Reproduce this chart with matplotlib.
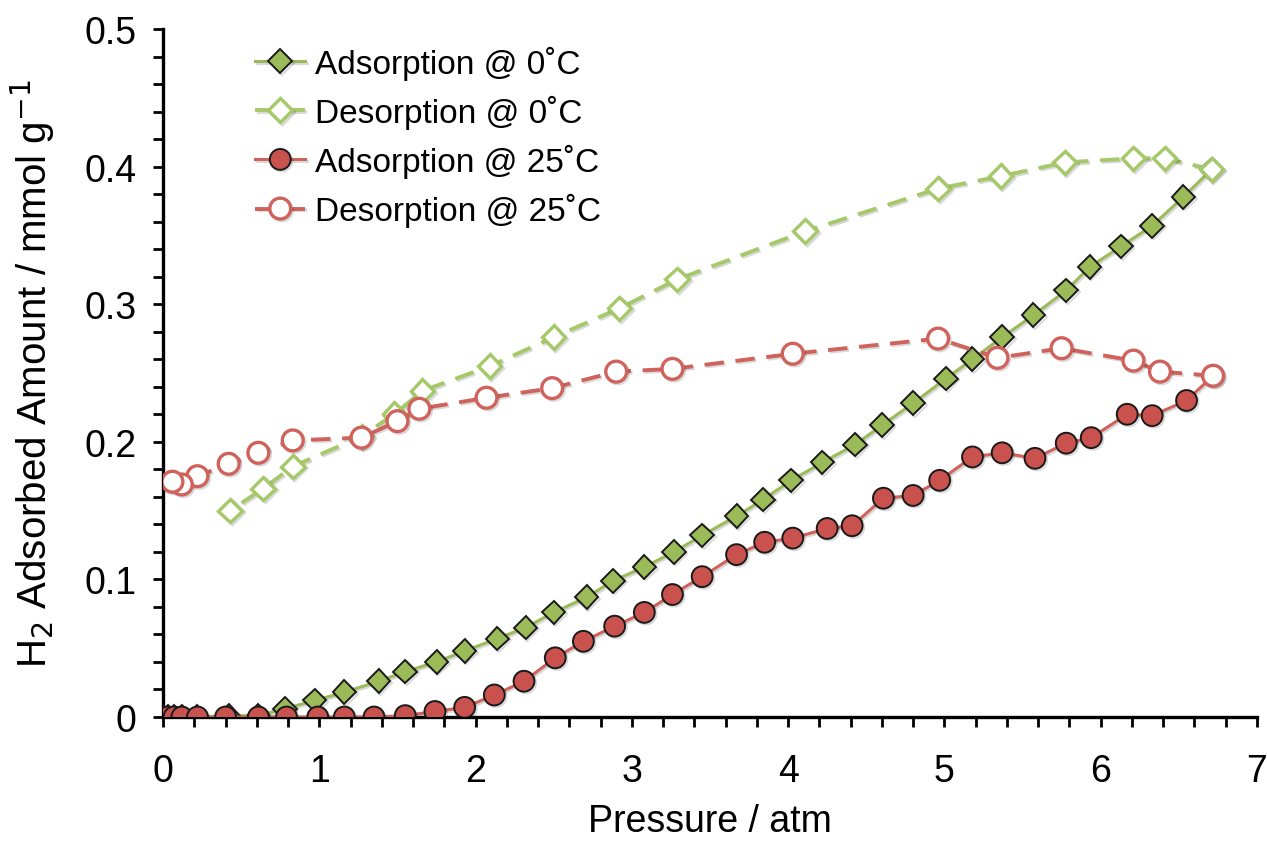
import matplotlib
matplotlib.use("Agg")
import matplotlib.pyplot as plt
import matplotlib.patheffects as pe
from matplotlib.ticker import MultipleLocator, FuncFormatter

plt.rcParams['font.family'] = ['Liberation Sans', 'DejaVu Sans']

# adsorption @ 0 C
ads0_p = [0, 0.03, 0.07, 0.12, 0.22, 0.42, 0.61, 0.78, 0.97, 1.16, 1.38, 1.55, 1.75, 1.93,
          2.14, 2.32, 2.50, 2.71, 2.88, 3.08, 3.27, 3.45, 3.67, 3.84, 4.02, 4.22, 4.43,
          4.60, 4.80, 5.01, 5.18, 5.37, 5.57, 5.78, 5.93, 6.13, 6.33, 6.53, 6.71]
ads0_q = [0, 0, 0, 0, 0, 0.001, 0.001, 0.006, 0.012, 0.018, 0.026, 0.033, 0.040, 0.048,
          0.057, 0.065, 0.076, 0.087, 0.099, 0.109, 0.120, 0.132, 0.146, 0.158, 0.172,
          0.185, 0.198, 0.212, 0.228, 0.246, 0.260, 0.276, 0.292, 0.310, 0.327, 0.342,
          0.357, 0.378, 0.398]

# desorption @ 0 C
des0_p = [6.71, 6.41, 6.21, 5.77, 5.36, 4.96, 4.11, 3.29, 2.92, 2.50, 2.09, 1.66, 1.48,
          1.27, 0.83, 0.64, 0.43]
des0_q = [0.398, 0.406, 0.406, 0.403, 0.393, 0.384, 0.353, 0.318, 0.297, 0.276, 0.255,
          0.237, 0.220, 0.204, 0.182, 0.166, 0.150]

# adsorption @ 25 C
ads25_p = [0, 0.03, 0.07, 0.12, 0.22, 0.40, 0.61, 0.79, 0.99, 1.16, 1.35, 1.55, 1.74,
           1.93, 2.12, 2.31, 2.51, 2.69, 2.89, 3.08, 3.26, 3.45, 3.67, 3.85, 4.03, 4.25,
           4.41, 4.61, 4.80, 4.97, 5.18, 5.37, 5.58, 5.78, 5.94, 6.17, 6.33, 6.55, 6.72]
ads25_q = [0, 0, 0, 0, 0, 0, 0, 0, 0, 0, 0, 0.001, 0.004, 0.007, 0.016, 0.026, 0.043,
           0.055, 0.066, 0.076, 0.089, 0.102, 0.118, 0.127, 0.130, 0.137, 0.139, 0.159,
           0.161, 0.172, 0.189, 0.192, 0.188, 0.199, 0.203, 0.220, 0.219, 0.230, 0.248]

# desorption @ 25 C
des25_p = [6.72, 6.38, 6.21, 5.75, 5.34, 4.96, 4.03, 3.26, 2.90, 2.49, 2.07, 1.64, 1.50,
           1.27, 0.83, 0.61, 0.42, 0.22, 0.12, 0.06]
des25_q = [0.248, 0.251, 0.259, 0.268, 0.261, 0.275, 0.264, 0.253, 0.251, 0.239, 0.232,
           0.224, 0.215, 0.203, 0.201, 0.192, 0.184, 0.175, 0.169, 0.171]

green = '#9BBB59'
green_open = '#A5C868'
red = '#C9524E'
red_line = '#D0625C'

shadow = [pe.SimpleLineShadow(offset=(1.2, -1.2), alpha=0.15), pe.Normal()]

fig = plt.figure(figsize=(12.67, 8.45), dpi=100)
ax = fig.add_axes([0.1287, 0.1503, 0.8633, 0.8142])

ax.plot(ads0_p, ads0_q, '-', color=green, lw=2.2, marker='D', ms=12, mfc=green,
        mec='#1a1a1a', mew=1.4, label='Adsorption @ 0˚C', path_effects=shadow, zorder=3)
ax.plot(des0_p, des0_q, '--', color=green_open, lw=2.8, dashes=(5, 3), marker='D', ms=12,
        mfc='white', mec=green_open, mew=2.4, label='Desorption @ 0˚C',
        path_effects=shadow, zorder=4)
ax.plot(ads25_p, ads25_q, '-', color=red_line, lw=2.2, marker='o', ms=15, mfc=red,
        mec='#1a1a1a', mew=1.4, label='Adsorption @ 25˚C', path_effects=shadow, zorder=5)
ax.plot(des25_p, des25_q, '--', color=red_line, lw=2.8, dashes=(5, 3), marker='o', ms=15,
        mfc='white', mec=red_line, mew=2.4, label='Desorption @ 25˚C',
        path_effects=shadow, zorder=6)

ax.set_xlim(0, 7)
ax.set_ylim(0, 0.5)
ax.xaxis.set_major_locator(MultipleLocator(1))
ax.xaxis.set_minor_locator(MultipleLocator(0.2))
ax.yaxis.set_major_locator(MultipleLocator(0.1))
ax.yaxis.set_minor_locator(MultipleLocator(0.02))
ax.yaxis.set_major_formatter(FuncFormatter(lambda v, p: '%g' % round(v, 2)))

for s in ['top', 'right']:
    ax.spines[s].set_visible(False)
for s in ['left', 'bottom']:
    ax.spines[s].set_linewidth(2.4)
ax.tick_params(which='both', direction='out', width=2.0, length=7, labelsize=27)
ax.tick_params(axis='x', which='major', pad=19)
ax.tick_params(axis='y', which='major', pad=12)

ax.set_xlabel('Pressure / atm', fontsize=27, labelpad=10)
ax.set_ylabel('H$_2$ Adsorbed Amount / mmol g$^{-1}$', fontsize=29, labelpad=20)

ax.legend(loc='upper left', bbox_to_anchor=(0.066, 1.005), frameon=False, fontsize=24,
          handlelength=1.5, handletextpad=0.3, labelspacing=0.45, borderaxespad=0.2)

fig.savefig('out.png', dpi=100)
